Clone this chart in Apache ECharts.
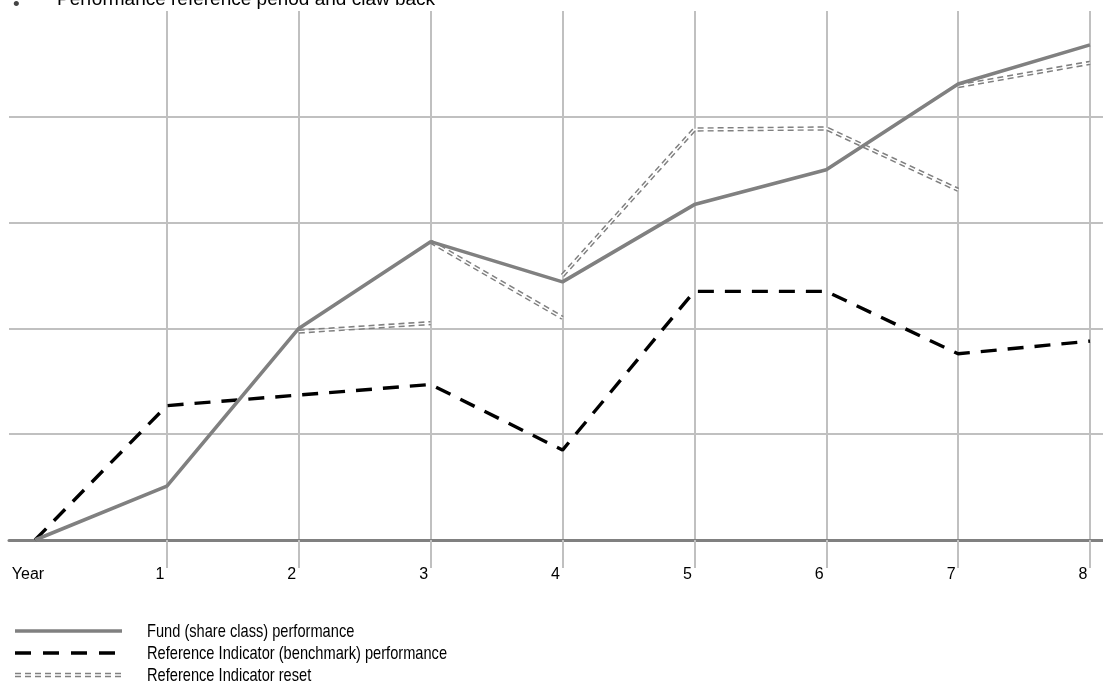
<!DOCTYPE html>
<html><head><meta charset="utf-8">
<script src="https://cdn.jsdelivr.net/npm/echarts@6/dist/echarts.min.js"></script>
<style>html,body{margin:0;padding:0;background:#fff}#c{width:1103px;height:694px}</style>
</head><body><div id="c"></div>
<script>
const categories = ['Year', '1', '2', '3', '4', '5', '6', '7', '8'];
const fund = [0, 0.51, 2.00, 2.82, 2.44, 3.17, 3.50, 4.31, 4.68];
const benchmark = [0, 1.27, 1.37, 1.47, 0.85, 2.35, 2.35, 1.76, 1.88];
const reset1 = [null, null, 1.97, 2.05, null, null, null, null, null];
const reset2 = [null, null, null, 2.82, 2.10, null, null, null, null];
const reset3 = [null, null, null, null, 2.50, 3.88, 3.89, 3.31, null];
const reset4 = [null, null, null, null, null, null, null, 4.29, 4.51];
const yMin = 0, yMax = 5, yStep = 1;
const legendNames = ['Fund (share class) performance', 'Reference Indicator (benchmark) performance', 'Reference Indicator reset'];
const titleText = 'Performance reference period and claw back';

const FONT = '"Liberation Sans", Arial, sans-serif';
const GRID_C = '#c0c0c0';
const FUND_C = '#808080';
const RESET_C = '#808080';

const resets = [reset1, reset2, reset3, reset4];
const series = [];
resets.forEach((r, i) => {
  series.push({
    name: legendNames[2], type: 'line', xAxisIndex: 1, yAxisIndex: 1, data: r,
    symbol: 'none', silent: true, z: 3,
    lineStyle: { color: RESET_C, width: 4.4, type: [6, 4], cap: 'butt' }
  });
  series.push({
    name: 'resetInner' + i, type: 'line', xAxisIndex: 1, yAxisIndex: 1, data: r,
    symbol: 'none', silent: true, z: 4,
    lineStyle: { color: '#ffffff', width: 1.4 }
  });
});
series.push({
  name: legendNames[1], type: 'line', xAxisIndex: 1, yAxisIndex: 1, data: benchmark,
  symbol: 'none', z: 5,
  lineStyle: { color: '#000000', width: 3.4, type: [16, 11], cap: 'butt' }
});
series.push({
  name: legendNames[0], type: 'line', xAxisIndex: 1, yAxisIndex: 1, data: fund,
  symbol: 'none', z: 6,
  lineStyle: { color: FUND_C, width: 3.6 }
});

const legendY = [631, 653, 675];
const graphics = [
  { type: 'text', x: 13, y: 14, style: { text: '\u2022', font: '19px "Liberation Sans", Arial', fill: '#444', verticalAlign: 'bottom' } },
  { type: 'text', x: 57, y: 9, style: { text: titleText, font: '19px "Liberation Sans", Arial', fill: '#000', verticalAlign: 'bottom' } },
  { type: 'line', shape: { x1: 15, y1: legendY[0], x2: 122, y2: legendY[0] }, style: { stroke: FUND_C, lineWidth: 3.6 } },
  { type: 'line', shape: { x1: 15, y1: legendY[1], x2: 122, y2: legendY[1] }, style: { stroke: '#000', lineWidth: 3.6, lineDash: [16, 12] } },
  { type: 'line', shape: { x1: 15, y1: legendY[2], x2: 122, y2: legendY[2] }, style: { stroke: RESET_C, lineWidth: 4.4, lineDash: [6, 4] } },
  { type: 'line', shape: { x1: 14, y1: legendY[2], x2: 123, y2: legendY[2] }, style: { stroke: '#fff', lineWidth: 1.4 } }
];
legendNames.forEach((n, i) => {
  graphics.push({ type: 'text', x: 147, y: legendY[i] + 1, scaleX: 0.77, style: { text: n, font: '19px ' + FONT, fill: '#000', verticalAlign: 'middle' } });
});

const chart = echarts.init(document.getElementById('c'), null, { renderer: 'canvas' });
chart.setOption({
  backgroundColor: '#fff',
  animation: false,
  grid: [
    { left: 9, right: 0, top: 11, bottom: 154 },
    { left: 35, right: 13, top: 11, bottom: 154 }
  ],
  xAxis: [
    { gridIndex: 0, type: 'category', data: categories, boundaryGap: false,
      axisLine: { show: true, lineStyle: { color: '#808080', width: 3 } },
      axisTick: { show: false }, axisLabel: { show: false }, splitLine: { show: false } },
    { gridIndex: 1, type: 'category', data: categories, boundaryGap: false,
      axisLine: { show: false },
      axisTick: { show: true, length: 28, interval: (i) => i > 0, lineStyle: { color: GRID_C, width: 2 } },
      splitLine: { show: true, interval: (i) => i > 0, lineStyle: { color: GRID_C, width: 2 } },
      axisLabel: { interval: 0, margin: 27, color: '#000', fontSize: 16, fontFamily: FONT, padding: [0, 14, 0, 0] } }
  ],
  yAxis: [
    { gridIndex: 0, type: 'value', min: yMin, max: yMax, interval: yStep,
      axisLine: { show: false }, axisTick: { show: false }, axisLabel: { show: false },
      splitLine: { show: true, showMinLine: false, showMaxLine: false, lineStyle: { color: GRID_C, width: 2 } } },
    { gridIndex: 1, type: 'value', min: yMin, max: yMax, interval: yStep,
      axisLine: { show: false }, axisTick: { show: false }, axisLabel: { show: false }, splitLine: { show: false } }
  ],
  series: series,
  graphic: graphics
});
</script></body></html>
